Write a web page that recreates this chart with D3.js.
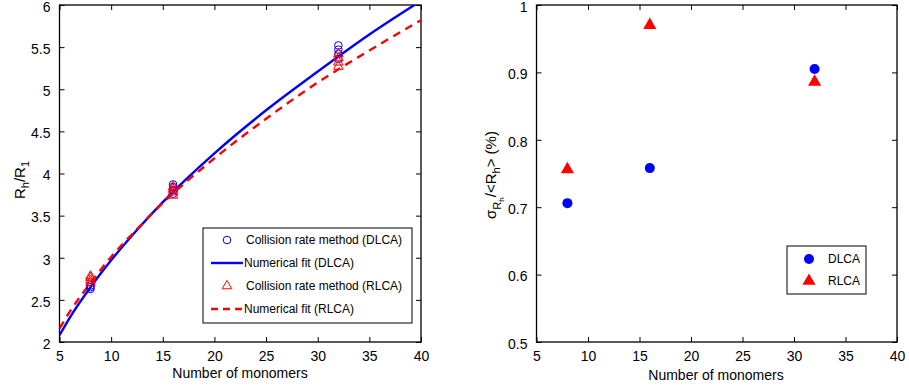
<!DOCTYPE html>
<html><head><meta charset="utf-8">
<script src="https://cdn.jsdelivr.net/npm/d3@7"></script>
<style>body{margin:0;background:#fff}svg{display:block}text{font-family:"Liberation Sans",Arial,sans-serif;fill:#000}</style>
</head><body>
<script>
// ---- data ----
const xTicks = [5,10,15,20,25,30,35,40];
const leftYTicks = [2,2.5,3,3.5,4,4.5,5,5.5,6];
const rightYTicks = [0.5,0.6,0.7,0.8,0.9,1];
// collision rate method samples (x, value)
const dlcaX = [8,8,8,16,16,16,16,32,32,32,32];
const dlcaVals = [2.63,2.65,2.67,3.76,3.80,3.84,3.87,5.36,5.42,5.47,5.52];
const rlcaX = [8,8,8,8,16,16,16,16,32,32,32,32];
const rlcaVals = [2.70,2.73,2.76,2.78,3.74,3.78,3.81,3.84,5.27,5.32,5.37,5.42];
// numerical fits
const fitX = [5,6,8,10,12.5,15,20,25,30,35,40];
const fitDLCA = [2.08,2.29,2.65,2.97,3.33,3.66,4.24,4.75,5.21,5.65,6.05];
const fitRLCA = [2.16,2.36,2.70,3.01,3.34,3.65,4.18,4.65,5.08,5.46,5.82];
// right panel
const sigX = [8,16,32];
const sigDLCA = [0.706,0.758,0.905];
const sigRLCA = [0.756,0.970,0.886];

const W=909,H=387;
const svg=d3.select("body").append("svg").attr("width",W).attr("height",H);
const topY=5,bottomY=342;

function panel(x0,x1,yDomain,yTicks,fmt){
  const x=d3.scaleLinear().domain([5,40]).range([x0,x1]);
  const y=d3.scaleLinear().domain(yDomain).range([bottomY,topY]);
  const g=svg.append("g");
  g.append("g").attr("transform",`translate(0,${bottomY})`)
    .call(d3.axisBottom(x).tickValues(xTicks).tickSizeInner(-5).tickSizeOuter(0).tickPadding(9));
  g.append("g").attr("transform",`translate(0,${topY})`)
    .call(d3.axisTop(x).tickValues(xTicks).tickSizeInner(-5).tickSizeOuter(0).tickFormat(""));
  const ay=g.append("g").attr("transform",`translate(${x0},0)`)
    .call(d3.axisLeft(y).tickValues(yTicks).tickSizeInner(-5).tickSizeOuter(0).tickPadding(9).tickFormat(fmt));
  ay.selectAll(".tick text").attr("dy","0.45em");
  g.append("g").attr("transform",`translate(${x1},0)`)
    .call(d3.axisRight(y).tickValues(yTicks).tickSizeInner(-5).tickSizeOuter(0).tickFormat(""));
  g.selectAll(".domain").remove();
  g.selectAll(".tick line").attr("stroke","#000");
  g.selectAll(".tick text").attr("font-size",14).attr("font-family","Liberation Sans, Arial, sans-serif");
  g.append("rect").attr("x",x0).attr("y",topY).attr("width",x1-x0).attr("height",bottomY-topY)
    .attr("fill","none").attr("stroke","#000").attr("stroke-width",1.3);
  return {x,y,g};
}

// ---- left panel ----
const L=panel(59.5,421,[2,6],leftYTicks,d=>d3.format("")(d));
svg.append("clipPath").attr("id","cl").append("rect").attr("x",59.5).attr("y",topY).attr("width",421-59.5).attr("height",bottomY-topY);
const lineL=d3.line().x((d,i)=>L.x(fitX[i])).y(d=>L.y(d)).curve(d3.curveMonotoneX);
L.g.append("path").attr("d",lineL(fitDLCA)).attr("fill","none").attr("stroke","#0000ff").attr("stroke-width",2.4).attr("clip-path","url(#cl)");
L.g.append("path").attr("d",lineL(fitRLCA)).attr("fill","none").attr("stroke","#ff0000").attr("stroke-width",2.4).attr("stroke-dasharray","8,6").attr("clip-path","url(#cl)");
const tri=d3.symbol().type(d3.symbolTriangle);
L.g.selectAll(".dc").data(dlcaVals).enter().append("circle")
  .attr("cx",(d,i)=>L.x(dlcaX[i])).attr("cy",d=>L.y(d)).attr("r",3.8)
  .attr("fill","none").attr("stroke","#0000ff").attr("stroke-width",1);
L.g.selectAll(".rt").data(rlcaVals).enter().append("path")
  .attr("d",tri.size(40)()).attr("transform",(d,i)=>`translate(${L.x(rlcaX[i])},${L.y(d)})`)
  .attr("fill","none").attr("stroke","#ff0000").attr("stroke-width",1);

// left legend
const lg=L.g.append("g");
lg.append("rect").attr("x",203).attr("y",228).attr("width",209).attr("height",95).attr("fill","#fff").attr("stroke","#000").attr("stroke-width",1);
const rows=[240,263,286,309];
const labelsL=["Collision rate method (DLCA)","Numerical fit (DLCA)","Collision rate method (RLCA)","Numerical fit (RLCA)"];
lg.append("circle").attr("cx",227).attr("cy",rows[0]).attr("r",3.8).attr("fill","none").attr("stroke","#0000ff");
lg.append("line").attr("x1",211).attr("x2",243).attr("y1",rows[1]).attr("y2",rows[1]).attr("stroke","#0000ff").attr("stroke-width",2.4);
lg.append("path").attr("d",tri.size(40)()).attr("transform",`translate(227,${rows[2]})`).attr("fill","none").attr("stroke","#ff0000");
lg.append("line").attr("x1",211).attr("x2",243).attr("y1",rows[3]).attr("y2",rows[3]).attr("stroke","#ff0000").attr("stroke-width",2.4).attr("stroke-dasharray","7,5");
labelsL.forEach((t,i)=>lg.append("text").attr("x",i%2?244:246).attr("y",rows[i]).attr("dy","0.35em").attr("font-size",12).text(t));

// left axis labels
svg.append("text").attr("x",240).attr("y",378).attr("text-anchor","middle").attr("font-size",14).text("Number of monomers");
const yl=svg.append("text").attr("transform","translate(25,180) rotate(-90)").attr("text-anchor","middle").attr("font-size",15);
yl.append("tspan").text("R");
yl.append("tspan").attr("dy",4).attr("font-size",11).text("h");
yl.append("tspan").attr("dy",-4).text("/R");
yl.append("tspan").attr("dy",4).attr("font-size",11).text("1");

// ---- right panel ----
const R=panel(536.5,897,[0.5,1],rightYTicks,d=>d3.format("")(d));
R.g.selectAll(".sd").data(sigDLCA).enter().append("circle")
  .attr("cx",(d,i)=>R.x(sigX[i])).attr("cy",d=>R.y(d)).attr("r",5).attr("fill","#0000ff");
R.g.selectAll(".sr").data(sigRLCA).enter().append("path")
  .attr("d",tri.size(75)()).attr("transform",(d,i)=>`translate(${R.x(sigX[i])},${R.y(d)})`).attr("fill","#ff0000");
const rg=R.g.append("g");
rg.append("rect").attr("x",787).attr("y",246).attr("width",79).attr("height",48).attr("fill","#fff").attr("stroke","#000");
rg.append("circle").attr("cx",809).attr("cy",259).attr("r",5).attr("fill","#0000ff");
rg.append("path").attr("d",tri.size(75)()).attr("transform","translate(809,281)").attr("fill","#ff0000");
rg.append("text").attr("x",828).attr("y",259).attr("dy","0.35em").attr("font-size",12).text("DLCA");
rg.append("text").attr("x",828).attr("y",281).attr("dy","0.35em").attr("font-size",12).text("RLCA");

svg.append("text").attr("x",716).attr("y",380).attr("text-anchor","middle").attr("font-size",14).text("Number of monomers");
const yr=svg.append("text").attr("transform","translate(496,175) rotate(-90)").attr("text-anchor","middle").attr("font-size",15);
yr.append("tspan").text("σ");
yr.append("tspan").attr("dy",5).attr("font-size",11).text("R");
yr.append("tspan").attr("dy",3).attr("font-size",8).text("h");
yr.append("tspan").attr("dy",-8).text("/<R");
yr.append("tspan").attr("dy",4).attr("font-size",11).text("h");
yr.append("tspan").attr("dy",-4).text("> (%)");
</script>
</body></html>
